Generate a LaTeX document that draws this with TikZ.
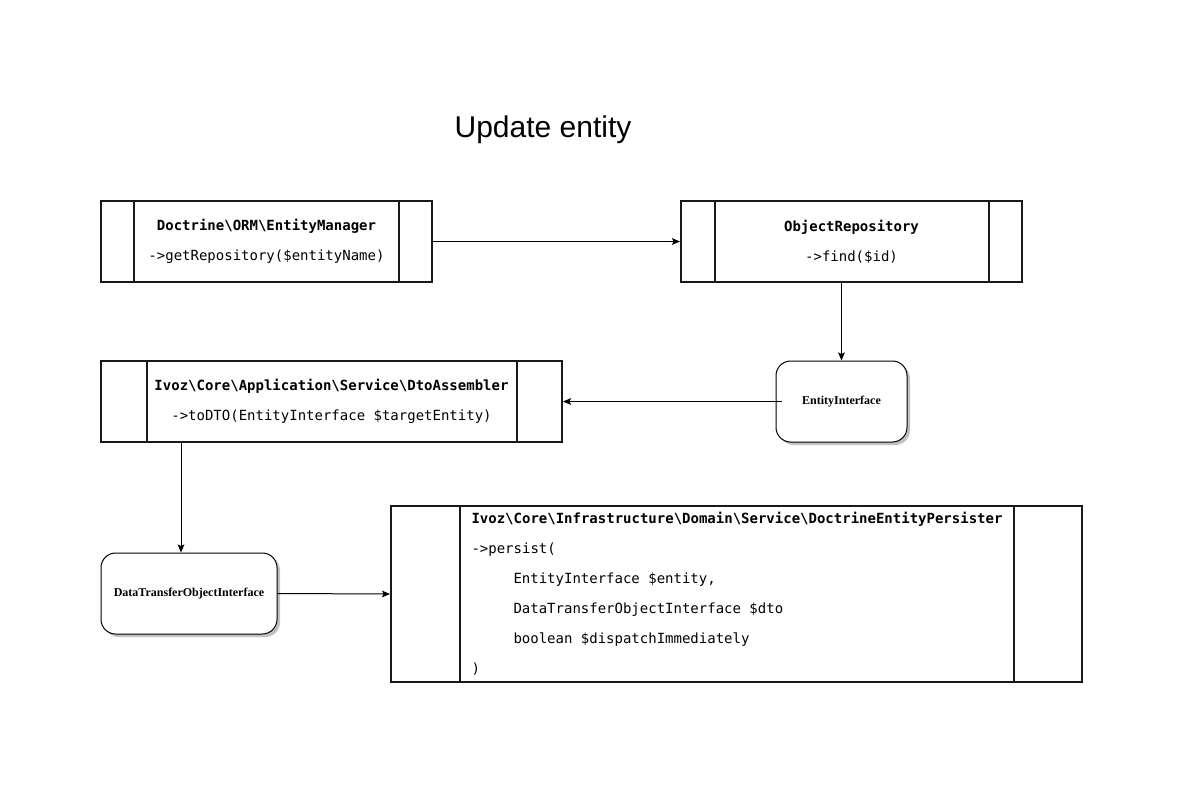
\documentclass[tikz,border=0pt]{standalone}
\usepackage{fontspec}
\setmainfont{Liberation Serif}
\newfontfamily\monofont{DejaVu Sans Mono}[WordSpace={1,0,0}]
\newfontfamily\titlefont{Liberation Sans}
\usetikzlibrary{arrows.meta,shadows}
\tikzset{
  procbox/.style={draw=black!90, line width=1.5pt, fill=white, inner sep=0pt,
    minimum height=60.75pt, align=center,
    font=\monofont\fontsize{10.5}{22.5}\selectfont},
  sideline/.style={draw=black!90, line width=1.5pt},
  roundbox/.style={draw=black, line width=0.75pt, fill=white, rounded corners=11pt,
    minimum height=60.75pt, inner sep=0pt,
    font=\bfseries\fontsize{9}{11}\selectfont,
    drop shadow={shadow xshift=2.25pt, shadow yshift=-2.25pt, fill=black!30, opacity=0.8}},
  conn/.style={draw=black, line width=0.75pt, -{Stealth[length=6pt,width=5pt,inset=1.2pt]}},
}
\begin{document}
\begin{tikzpicture}[x=0.75pt,y=-0.75pt]
\useasboundingbox (0,0) rectangle (1182,789);

\node[font=\titlefont\fontsize{22.5}{27}\selectfont] (title) at (543,129.5) {Update entity};

% Box 1
\node[procbox, minimum width=248.25pt] (em) at (266.5,241.5)
  {{\bfseries Doctrine\textbackslash ORM\textbackslash EntityManager}\\->getRepository(\$entityName)};
\draw[sideline] ([xshift=25.5pt]em.north west) -- ([xshift=25.5pt]em.south west);
\draw[sideline] ([xshift=-25.5pt]em.north east) -- ([xshift=-25.5pt]em.south east);

% Box 2
\node[procbox, minimum width=255.75pt] (or) at (851.5,241.5)
  {{\bfseries ObjectRepository}\\->find(\$id)};
\draw[sideline] ([xshift=26pt]or.north west) -- ([xshift=26pt]or.south west);
\draw[sideline] ([xshift=-25.5pt]or.north east) -- ([xshift=-25.5pt]or.south east);

% Box 3
\node[procbox, minimum width=345.75pt] (da) at (331.5,401.5)
  {{\bfseries Ivoz\textbackslash Core\textbackslash Application\textbackslash Service\textbackslash DtoAssembler}\\->toDTO(EntityInterface \$targetEntity)};
\draw[sideline] ([xshift=35.25pt]da.north west) -- ([xshift=35.25pt]da.south west);
\draw[sideline] ([xshift=-34.5pt]da.north east) -- ([xshift=-34.5pt]da.south east);

% Rounded boxes
\node[roundbox, minimum width=98.25pt] (ei) at (841.5,401.5) {EntityInterface};
\node[roundbox, minimum width=132pt] (dto) at (189,593.5) {DataTransferObjectInterface};

% Box 6
\node[procbox, minimum width=518.25pt, minimum height=132pt, text width=397.5pt, align=left] (pers) at (736.5,594)
  {\spaceskip=0pt\xspaceskip=0pt\relax
   {\bfseries Ivoz\textbackslash Core\textbackslash Infrastructure\textbackslash Domain\textbackslash Service\textbackslash DoctrineEntityPersister}\\
   ->persist(\\
   \hspace*{31.5pt}EntityInterface \$entity,\\
   \hspace*{31.5pt}DataTransferObjectInterface \$dto\\
   \hspace*{31.5pt}boolean \$dispatchImmediately\\
   )};
\draw[sideline] ([xshift=52.5pt]pers.north west) -- ([xshift=52.5pt]pers.south west);
\draw[sideline] ([xshift=-51.75pt]pers.north east) -- ([xshift=-51.75pt]pers.south east);

% Connectors
\draw[conn] (em.east) -- (or.west);
\draw[conn] ([xshift=-7.5pt]or.south) -- (ei.north);
\draw[conn, shorten <=-4.5pt] (ei.west) -- (da.east);
\draw[conn] ([xshift=-112.875pt]da.south) -- ([xshift=-6pt]dto.north);
\draw[conn] (dto.east) -- (pers.west);
\end{tikzpicture}
\end{document}
